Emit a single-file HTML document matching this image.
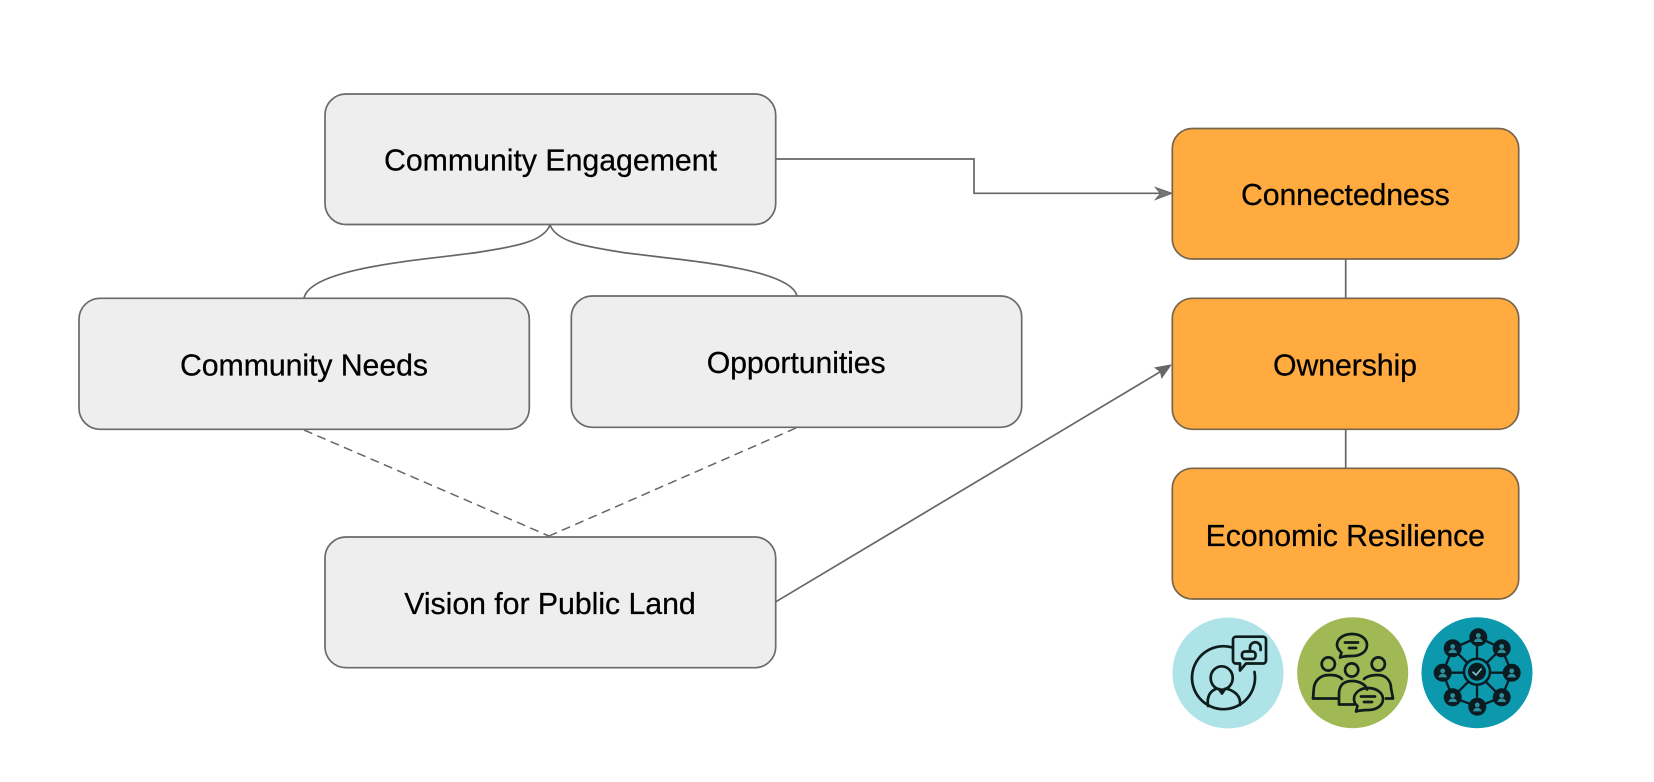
<!DOCTYPE html>
<html>
<head>
<meta charset="utf-8">
<style>
html,body{margin:0;padding:0;background:#fff;width:1654px;height:782px;overflow:hidden}
svg{display:block}
text{font-family:"Liberation Sans",Arial,sans-serif;font-size:30.3px;fill:#000;stroke:#000;stroke-width:.25;text-anchor:middle}
.g{fill:#eee;stroke:#6a6a6a;stroke-width:1.7}
.o{fill:#ffab40;stroke:#77664c;stroke-width:1.7}
.l{fill:none;stroke:#666;stroke-width:1.7}
.d{fill:none;stroke:#666;stroke-width:1.5;stroke-dasharray:9 5.5}
.i{fill:none;stroke:#0e1d1c;stroke-width:2.7;stroke-linecap:round;stroke-linejoin:round}
.n{fill:#0a1c22;stroke:none}
.w{fill:none;stroke:#0a1c22;stroke-width:2.3}
.ic{filter:blur(.35px)}
</style>
</head>
<body>
<svg width="1654" height="782" viewBox="0 0 1654 782" xmlns="http://www.w3.org/2000/svg">
<rect width="1654" height="782" fill="#fff"/>

<!-- connectors -->
<path class="l" d="M776 159H974V193.3H1164"/>
<path d="M1155.5 187.5L1172 193.3L1155.5 199.5L1160.5 193.6Z" fill="#777" stroke="#666" stroke-width="1"/>
<path class="l" d="M776 601.7L1164 369.5"/>
<path d="M1172 364.3L1161.5 379L1160 372L1154 367.5Z" fill="#666"/>
<path class="l" d="M550 225C543 243 510 247 480 252C436 259 311 266 304 298"/>
<path class="l" d="M550 225C557 243 590 247 620 252C664 259 790 266 797 296"/>
<path class="d" d="M304 430L549 536"/>
<path class="d" d="M796 428L549 536"/>
<path class="l" d="M1345.7 259V298M1345.7 429V468"/>

<!-- boxes -->
<rect class="g" x="325" y="94" width="450.7" height="130.5" rx="21"/>
<rect class="g" x="79" y="298.3" width="450.3" height="131" rx="21"/>
<rect class="g" x="571.3" y="296" width="450.4" height="131.3" rx="21"/>
<rect class="g" x="325" y="537" width="450.7" height="130.7" rx="21"/>
<rect class="o" x="1172.3" y="128.5" width="346.4" height="130.5" rx="20"/>
<rect class="o" x="1172.3" y="298.3" width="346.4" height="131" rx="20"/>
<rect class="o" x="1172.3" y="468.3" width="346.4" height="130.7" rx="20"/>

<!-- labels -->
<text x="550.5" y="170.7" textLength="333" lengthAdjust="spacing">Community Engagement</text>
<text x="304" y="375.7" textLength="248" lengthAdjust="spacing">Community Needs</text>
<text x="796.2" y="373" textLength="179" lengthAdjust="spacing">Opportunities</text>
<text x="550" y="614" textLength="291.5" lengthAdjust="spacing">Vision for Public Land</text>
<text x="1345.4" y="205" textLength="208.7" lengthAdjust="spacing">Connectedness</text>
<text x="1345" y="375.7" textLength="144" lengthAdjust="spacing">Ownership</text>
<text x="1345.3" y="546" textLength="279.4" lengthAdjust="spacing">Economic Resilience</text>

<!-- icon 1 -->
<circle cx="1228" cy="673" r="55.5" fill="#aee3e8"/>
<g class="i ic">
<path d="M1232.5 647.5A31.5 31.5 0 1 0 1254.5 672"/>
<path d="M1236 636.7H1263A3 3 0 0 1 1266 639.7V660.5A3 3 0 0 1 1263 663.5H1246L1240 670.5L1240 663.5H1236A3 3 0 0 1 1233 660.5V639.7A3 3 0 0 1 1236 636.7Z"/>
<rect x="1242" y="651.5" width="13.5" height="7.5" rx="3"/>
<path d="M1250 651V647.5A5.3 5.3 0 0 1 1260.6 647.5V650"/>
<ellipse cx="1221.7" cy="678" rx="11" ry="11.7"/>
<path d="M1208 706C1206.5 695 1211 690.5 1217 688.5M1226 688.5C1235 691 1241 696 1240 705"/>
<path d="M1219 689L1222 693.5L1225 689"/>
</g>

<!-- icon 2 -->
<circle cx="1352.7" cy="672.7" r="55.5" fill="#a0b955"/>
<g class="i ic">
<path d="M1352 634C1361 634 1367 639 1367 645C1367 652 1360 656 1352 656C1347 656 1344 656 1340 657.5L1341.5 652.5C1338.5 650 1337 648 1337 645C1337 639 1343 634 1352 634Z"/>
<path d="M1345 642.5H1358M1349 648H1356"/>
<circle cx="1328.3" cy="664" r="6.6"/>
<circle cx="1351.7" cy="670" r="6.6"/>
<circle cx="1378.3" cy="664" r="6.6"/>
<path d="M1342 679C1338 675 1333 675 1329 675C1320 675 1314 681 1313.7 690L1313 698.5H1338"/>
<path d="M1364 679C1367 676 1372 675 1378 675C1386 675 1391 681 1391 688L1393 698.5H1386"/>
<path d="M1339 704.5V694C1339 685 1344 681 1352 681C1360 681 1366 685 1367 689.5M1339 704.5H1354"/>
<path d="M1368 688C1378 688 1383 694 1383 699C1383 706 1376 710 1368 710C1364 710 1361 710 1356 711.5L1357.5 706C1355 704 1354 702 1354 699C1354 693 1360 688 1368 688Z"/>
<path d="M1361 696.5H1375M1364 702H1372"/>
</g>

<!-- icon 3 -->
<circle cx="1477" cy="672.7" r="55.5" fill="#0c98ad"/>
<g class="ic">
<path class="w" d="M1478.3 637.3L1501.7 648.3L1511.7 672.7L1501.7 697.3L1477.3 706.7L1452.7 697.3L1442.7 672.7L1452.7 648.3Z"/>
<path class="w" d="M1477 660V637.3M1477 685V706.7M1489 672.7H1511.7M1465 672.7H1442.7M1486 663.5L1501.7 648.3M1468 663.5L1452.7 648.3M1486 682L1501.7 697.3M1468 682L1452.7 697.3"/>
<circle cx="1477" cy="671.7" r="13" fill="#0c98ad" stroke="#0a1c22" stroke-width="2.5"/>
<circle cx="1477" cy="671.7" r="9" class="n"/>
<path d="M1472.5 671.7L1476 675L1481.5 668.5" fill="none" stroke="#7cc7cf" stroke-width="1.6"/>
<g class="n">
<circle cx="1478.3" cy="637.3" r="9"/><circle cx="1501.7" cy="648.3" r="9"/>
<circle cx="1511.7" cy="672.7" r="9"/><circle cx="1501.7" cy="697.3" r="9"/>
<circle cx="1477.3" cy="706.7" r="9"/><circle cx="1452.7" cy="697.3" r="9"/>
<circle cx="1442.7" cy="672.7" r="9"/><circle cx="1452.7" cy="648.3" r="9"/>
</g>
<g fill="#2e8e9c">
<circle cx="1478.3" cy="635.5" r="2.4"/><path d="M1474 642a4.3 3.6 0 0 1 8.6 0Z"/>
<circle cx="1501.7" cy="646.5" r="2.4"/><path d="M1497.4 653a4.3 3.6 0 0 1 8.6 0Z"/>
<circle cx="1511.7" cy="670.9" r="2.4"/><path d="M1507.4 677.4a4.3 3.6 0 0 1 8.6 0Z"/>
<circle cx="1501.7" cy="695.5" r="2.4"/><path d="M1497.4 702a4.3 3.6 0 0 1 8.6 0Z"/>
<circle cx="1477.3" cy="704.9" r="2.4"/><path d="M1473 711.4a4.3 3.6 0 0 1 8.6 0Z"/>
<circle cx="1452.7" cy="695.5" r="2.4"/><path d="M1448.4 702a4.3 3.6 0 0 1 8.6 0Z"/>
<circle cx="1442.7" cy="670.9" r="2.4"/><path d="M1438.4 677.4a4.3 3.6 0 0 1 8.6 0Z"/>
<circle cx="1452.7" cy="646.5" r="2.4"/><path d="M1448.4 653a4.3 3.6 0 0 1 8.6 0Z"/>
</g>
</g>
</svg>
</body>
</html>
